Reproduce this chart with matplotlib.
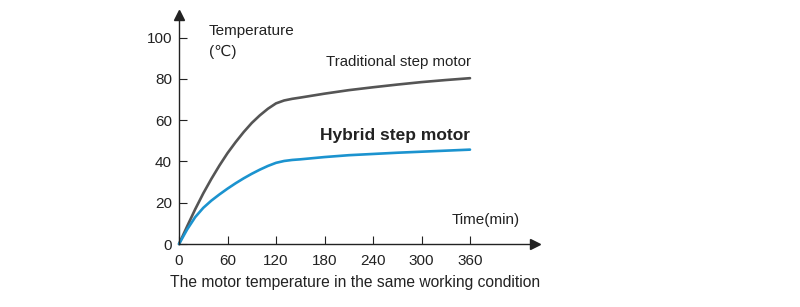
import matplotlib
matplotlib.use("Agg")
import matplotlib.pyplot as plt

plt.rcParams['font.family'] = ['Liberation Sans', 'DejaVu Sans']

time_min = [0, 10, 20, 30, 40, 50, 60, 70, 80, 90, 100, 110, 120, 130, 140,
            150, 180, 210, 240, 270, 300, 330, 360]
traditional = [0, 8.5, 16.8, 24.5, 31.5, 38, 44, 49.3, 54.2, 58.6, 62.3, 65.5, 68.1, 69.5, 70.3,
               70.9, 72.8, 74.5, 75.9, 77.2, 78.4, 79.4, 80.3]
hybrid = [0, 7, 13, 17.5, 21, 24, 26.8, 29.4, 31.8, 34, 36, 37.8, 39.3, 40.2, 40.7,
          41, 42.1, 43, 43.6, 44.2, 44.7, 45.2, 45.7]
x_ticks = [0, 60, 120, 180, 240, 300, 360]
y_ticks = [0, 20, 40, 60, 80, 100]

W, H = 800, 307
fig = plt.figure(figsize=(8, 3.07), dpi=100)
left, right = 179 / W, 535 / W
bottom, top = (H - 244) / H, (H - 15) / H
ax = fig.add_axes([left, bottom, right - left, top - bottom])
ax.set_xlim(0, (535 - 179) / (48.5 / 60))
ax.set_ylim(0, (244 - 15) / 2.065)

ax.plot(time_min, traditional, color='#555555', lw=1.9, solid_capstyle='round',
        solid_joinstyle='round', clip_on=False)
ax.plot(time_min, hybrid, color='#1b93cf', lw=1.9, solid_capstyle='round',
        solid_joinstyle='round', clip_on=False)

for s in ['top', 'right']:
    ax.spines[s].set_visible(False)
for s in ['left', 'bottom']:
    ax.spines[s].set_color('#222222')
    ax.spines[s].set_linewidth(1.0)

ax.plot(1, 0, marker='>', color='#222222', markersize=7, transform=ax.transAxes, clip_on=False)
ax.plot(0, 1, marker='^', color='#222222', markersize=7, transform=ax.transAxes, clip_on=False)

ax.set_xticks(x_ticks)
ax.set_yticks(y_ticks)
ax.tick_params(direction='in', length=6, width=0.8, color='#222222',
               labelsize=11, labelcolor='#222222')
ax.tick_params(axis='x', pad=7)
ax.tick_params(axis='y', pad=5)

ax.text(37, 106.5, 'Temperature\n(\u2103)', fontsize=11, color='#222222',
        ha='left', va='top', linespacing=1.6)
ax.text(182, 88, 'Traditional step motor', fontsize=10.85, color='#222222',
        ha='left', va='center')
ax.text(174, 52.7, 'Hybrid step motor', fontsize=12.5, fontweight='bold', color='#222222',
        ha='left', va='center')
ax.text(337, 11.5, 'Time(min)', fontsize=11, color='#222222', ha='left', va='center')

fig.text(170 / W, 1 - 282 / H, 'The motor temperature in the same working condition',
         fontsize=11.25, color='#222222', ha='left', va='center')

fig.savefig('out.png', dpi=100)
